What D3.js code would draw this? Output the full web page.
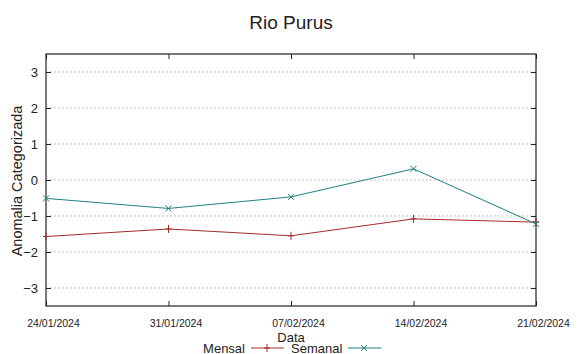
<!DOCTYPE html>
<html><head><meta charset="utf-8">
<script src="https://cdn.jsdelivr.net/npm/d3@7"></script>
<style>body{margin:0;background:#fff}svg{display:block}text{font-family:"Liberation Sans",Arial,sans-serif;fill:#222}</style>
</head><body><svg id="c" width="587" height="354"></svg>
<script>
const dates = ["24/01/2024","31/01/2024","07/02/2024","14/02/2024","21/02/2024"];
const mensal = [-1.57, -1.36, -1.55, -1.08, -1.17];
const semanal = [-0.51, -0.79, -0.47, 0.31, -1.22];
const yTicks = [-3,-2,-1,0,1,2,3];
const title = "Rio Purus";
const xLabel = "Data";
const yLabel = "Anomalia Categorizada";
const seriesNames = ["Mensal","Semanal"];

const svg = d3.select("#c");
const L=46, R=536, T=54, B=306;
const x = d3.scalePoint().domain(dates).range([L,R]);
const y = d3.scaleLinear().domain([-3.5,3.5]).range([B,T]);

// grid
svg.append("g").selectAll("line").data(yTicks).join("line")
  .attr("x1",L).attr("x2",R).attr("y1",d=>y(d)).attr("y2",d=>y(d))
  .attr("stroke","#aaa").attr("stroke-width",1).attr("stroke-dasharray","1.5,2.5");

// axes
const ax = svg.append("g");
ax.append("g").attr("transform",`translate(0,${B})`)
  .call(d3.axisBottom(x).tickSize(-5).tickPadding(14))
  .call(g=>{g.select(".domain").remove(); g.selectAll("text").attr("font-size",10.5).attr("fill","#222").attr("dx",7);});
ax.append("g").attr("transform",`translate(0,${T})`)
  .call(d3.axisTop(x).tickSize(-5).tickFormat(""))
  .call(g=>g.select(".domain").remove());
ax.append("g").attr("transform",`translate(${L},0)`)
  .call(d3.axisLeft(y).tickValues(yTicks).tickFormat(d3.format("d")).tickSize(-5).tickPadding(8))
  .call(g=>{g.select(".domain").remove(); g.selectAll("text").attr("font-size",13).attr("fill","#222");});
ax.append("g").attr("transform",`translate(${R},0)`)
  .call(d3.axisRight(y).tickValues(yTicks).tickSize(-5).tickFormat(""))
  .call(g=>g.select(".domain").remove());
ax.selectAll(".tick line").attr("stroke","#222");
svg.append("rect").attr("x",L).attr("y",T).attr("width",R-L).attr("height",B-T)
  .attr("fill","none").attr("stroke","#222").attr("stroke-width",1.2);

const cols = ["#a52a2a","#1f8080"];
const line = d3.line().x((d,i)=>x(dates[i])).y(d=>y(d));
const data = [mensal, semanal];
function marker(g, cx, cy, k, c){
  if(k===0){
    g.append("path").attr("d",`M${cx-3},${cy}H${cx+3}M${cx},${cy-4}V${cy+4}`).attr("stroke",c).attr("stroke-width",1);
  } else {
    g.append("path").attr("d",`M${cx-3},${cy-3}L${cx+3},${cy+3}M${cx-3},${cy+3}L${cx+3},${cy-3}`).attr("stroke",c).attr("stroke-width",1);
  }
}
data.forEach((s,k)=>{
  const g = svg.append("g");
  g.append("path").datum(s).attr("d",line).attr("fill","none").attr("stroke",cols[k]).attr("stroke-width",1);
  s.forEach((v,i)=>marker(g,x(dates[i]),y(v),k,cols[k]));
});

// title & labels
svg.append("text").attr("x",291).attr("y",29).attr("text-anchor","middle").attr("font-size",19).text(title);
svg.append("text").attr("x",291).attr("y",342).attr("text-anchor","middle").attr("font-size",13).text(xLabel);
svg.append("text").attr("transform","translate(22,181) rotate(-90)").attr("text-anchor","middle").attr("font-size",14.5).text(yLabel);

// legend
const lg = svg.append("g");
const legY = 348;
lg.append("text").attr("x",245).attr("y",legY+5).attr("text-anchor","end").attr("font-size",13).text(seriesNames[0]);
lg.append("line").attr("x1",251).attr("x2",284).attr("y1",legY).attr("y2",legY).attr("stroke",cols[0]).attr("stroke-width",1);
marker(lg,267,legY,0,cols[0]);
lg.append("text").attr("x",291).attr("y",legY+5).attr("text-anchor","start").attr("font-size",13).text(seriesNames[1]);
lg.append("line").attr("x1",348).attr("x2",381).attr("y1",legY).attr("y2",legY).attr("stroke",cols[1]).attr("stroke-width",1);
marker(lg,364,legY,1,cols[1]);
</script></body></html>
